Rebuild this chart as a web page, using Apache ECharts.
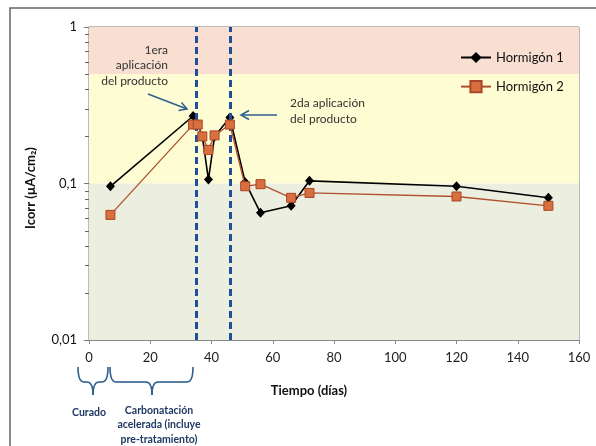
<!DOCTYPE html>
<html>
<head>
<meta charset="utf-8">
<script src="https://cdn.jsdelivr.net/npm/echarts@6/dist/echarts.min.js"></script>
<style>
html,body{margin:0;padding:0;background:#fff;}
#c{width:596px;height:446px;}
</style>
</head>
<body>
<div id="c"></div>
<script>
// ---- data ----
const days = [7, 34, 35.5, 37, 39, 41, 46, 51, 56, 66, 72, 120, 150];
const hormigon1 = [0.096, 0.27, 0.24, 0.20, 0.106, 0.20, 0.264, 0.102, 0.065, 0.072, 0.104, 0.096, 0.081];
const hormigon2 = [0.063, 0.238, 0.238, 0.20, 0.164, 0.203, 0.238, 0.096, 0.099, 0.081, 0.087, 0.0826, 0.072];
const seriesNames = ['Hormigón 1', 'Hormigón 2'];
const applicationDays = [35, 46];
const zoneBounds = [[0.5, 1], [0.1, 0.5], [0.01, 0.1]];
const yTicks = [0.01, 0.1, 1];
const yTickLabels = ['0,01', '0,1', '1'];
const yMinorTicks = [0.02, 0.03, 0.04, 0.05, 0.06, 0.07, 0.08, 0.09, 0.2, 0.3, 0.4, 0.5, 0.6, 0.7, 0.8, 0.9];
const xTickInterval = 20;

const FONT = 'Lato, "Open Sans", sans-serif';
const zoneColors = ['#f9dfd2', '#fefcd2', '#ecefdf'];
const navy = '#1f3864';
const arrowColor = '#2f5f8f';

function pairs(xs, ys) { return xs.map((x, i) => [x, ys[i]]); }

function brace(L, R, top, mid, tip, cx) {
  const r = 6;
  const st = { stroke: arrowColor, lineWidth: 1.6, fill: null };
  return {
    type: 'group',
    children: [
      { type: 'bezierCurve', shape: { x1: L, y1: top, cpx1: L, cpy1: mid, x2: L + r, y2: mid }, style: st },
      { type: 'line', shape: { x1: L + r, y1: mid, x2: cx - r, y2: mid }, style: st },
      { type: 'bezierCurve', shape: { x1: cx - r, y1: mid, cpx1: cx, cpy1: mid, x2: cx, y2: tip }, style: st },
      { type: 'bezierCurve', shape: { x1: cx, y1: tip, cpx1: cx, cpy1: mid, x2: cx + r, y2: mid }, style: st },
      { type: 'line', shape: { x1: cx + r, y1: mid, x2: R - r, y2: mid }, style: st },
      { type: 'bezierCurve', shape: { x1: R - r, y1: mid, cpx1: R, cpy1: mid, x2: R, y2: top }, style: st }
    ]
  };
}

const baseGraphic = [
  { type: 'rect', shape: { x: 10, y: 8, width: 700, height: 600 }, style: { stroke: '#666', lineWidth: 1.5, fill: null }, z: 100 },
  { type: 'text', x: 31, y: 188, rotation: Math.PI / 2,
    style: { text: 'Icorr (µA/cm₂)', font: 'bold 13px ' + FONT, fill: '#111', align: 'center', verticalAlign: 'middle' } },
  { type: 'text', x: 309, y: 391,
    style: { text: 'Tiempo (días)', font: 'bold 13px ' + FONT, fill: '#111', align: 'center', verticalAlign: 'middle' } },
  { type: 'text', x: 168, y: 42, z: 50,
    style: { text: '1era\naplicación\ndel producto', font: '12px ' + FONT, fill: '#333', align: 'right', verticalAlign: 'top', lineHeight: 15.5 } },
  { type: 'text', x: 290, y: 95, z: 50,
    style: { text: '2da aplicación\ndel producto', font: '12px ' + FONT, fill: '#333', align: 'left', verticalAlign: 'top', lineHeight: 16 } },
  { type: 'line', z: 60, shape: { x1: 148, y1: 94, x2: 187, y2: 109 }, style: { stroke: arrowColor, lineWidth: 1.5 } },
  { type: 'polyline', z: 60, shape: { points: [[178.5, 110.5], [187, 109], [181.5, 102.5]] }, style: { stroke: arrowColor, lineWidth: 1.5, fill: null } },
  { type: 'line', z: 60, shape: { x1: 277, y1: 115, x2: 241, y2: 115 }, style: { stroke: arrowColor, lineWidth: 1.5 } },
  { type: 'polyline', z: 60, shape: { points: [[249, 110.5], [241, 115], [249, 119.5]] }, style: { stroke: arrowColor, lineWidth: 1.5, fill: null } },
  brace(78, 108, 367, 382, 395, 93),
  brace(110, 193, 367, 382, 395, 152),
  { type: 'text', x: 89, y: 413,
    style: { text: 'Curado', font: 'bold 10.5px ' + FONT, fill: navy, align: 'center', verticalAlign: 'middle' } },
  { type: 'text', x: 159, y: 403,
    style: { text: 'Carbonatación\nacelerada (incluye\npre-tratamiento)', font: 'bold 10.5px ' + FONT, fill: navy, align: 'center', verticalAlign: 'top', lineHeight: 14.5 } }
];

const chart = echarts.init(document.getElementById('c'));
chart.setOption({
  animation: false,
  backgroundColor: '#ffffff',
  grid: { left: 89, right: 17, top: 27, bottom: 106, show: true, borderColor: '#777', borderWidth: 1 },
  legend: {
    data: seriesNames, orient: 'vertical', left: 455, top: 46,
    itemWidth: 30, itemHeight: 14, itemGap: 16,
    textStyle: { fontFamily: FONT, fontSize: 13, color: '#111' }
  },
  xAxis: {
    type: 'value', min: 0, max: 160, interval: xTickInterval,
    axisLine: { lineStyle: { color: '#888' } },
    axisTick: { show: true, inside: false, length: 4, lineStyle: { color: '#888' } },
    axisLabel: { fontFamily: FONT, fontSize: 13, color: '#222', margin: 11 },
    splitLine: { show: false }
  },
  yAxis: {
    type: 'log', logBase: 10, min: 0.01, max: 1,
    axisLine: { show: true, lineStyle: { color: '#888' } },
    axisTick: { show: true, inside: false, length: 5, lineStyle: { color: '#777' } },
    axisLabel: {
      fontFamily: FONT, fontSize: 13, color: '#111', margin: 12,
      formatter: v => {
        let best = 0;
        yTicks.forEach((t, i) => { if (Math.abs(Math.log10(t) - Math.log10(v)) < Math.abs(Math.log10(yTicks[best]) - Math.log10(v))) best = i; });
        return yTickLabels[best];
      }
    },
    splitLine: { show: false }
  },
  series: [
    {
      name: 'zones', type: 'line', data: [], z: 0, silent: true,
      markArea: {
        silent: true,
        data: zoneBounds.map((b, i) => [
          { yAxis: b[0], itemStyle: { color: zoneColors[i] } },
          { yAxis: b[1] }
        ])
      }
    },
    {
      name: seriesNames[0], type: 'line', z: 4,
      data: pairs(days, hormigon1),
      symbol: 'diamond', symbolSize: [9, 10],
      itemStyle: { color: '#000' },
      lineStyle: { color: '#000', width: 1.6 }
    },
    {
      name: seriesNames[1], type: 'line', z: 5,
      data: pairs(days, hormigon2),
      symbol: 'rect', symbolSize: 9,
      itemStyle: { color: '#d86f3e', borderColor: '#a9472a', borderWidth: 1 },
      lineStyle: { color: '#b0502e', width: 1.3 }
    },
    {
      name: 'apps', type: 'line', data: [], z: 6, silent: true,
      markLine: {
        silent: true, symbol: 'none', label: { show: false },
        lineStyle: { color: '#1f4e9a', width: 3, type: [7, 4] },
        data: applicationDays.map(d => ({ xAxis: d }))
      }
    }
  ],
  graphic: baseGraphic
});

// minor ticks on the log axis, placed through the axis scale
const minorTickEls = [];
yMinorTicks.forEach(v => {
  const p = chart.convertToPixel({ seriesIndex: 1 }, [0, v]);
  if (!p || !isFinite(p[0]) || !isFinite(p[1])) return;
  const y = Math.round(p[1]) + 0.5;
  minorTickEls.push({ type: 'line', z: 60, shape: { x1: p[0] - 4, y1: y, x2: p[0], y2: y }, style: { stroke: '#666', lineWidth: 1 } });
});
chart.setOption({ graphic: { elements: baseGraphic.concat(minorTickEls) } }, { replaceMerge: ['graphic'] });
</script>
</body>
</html>
